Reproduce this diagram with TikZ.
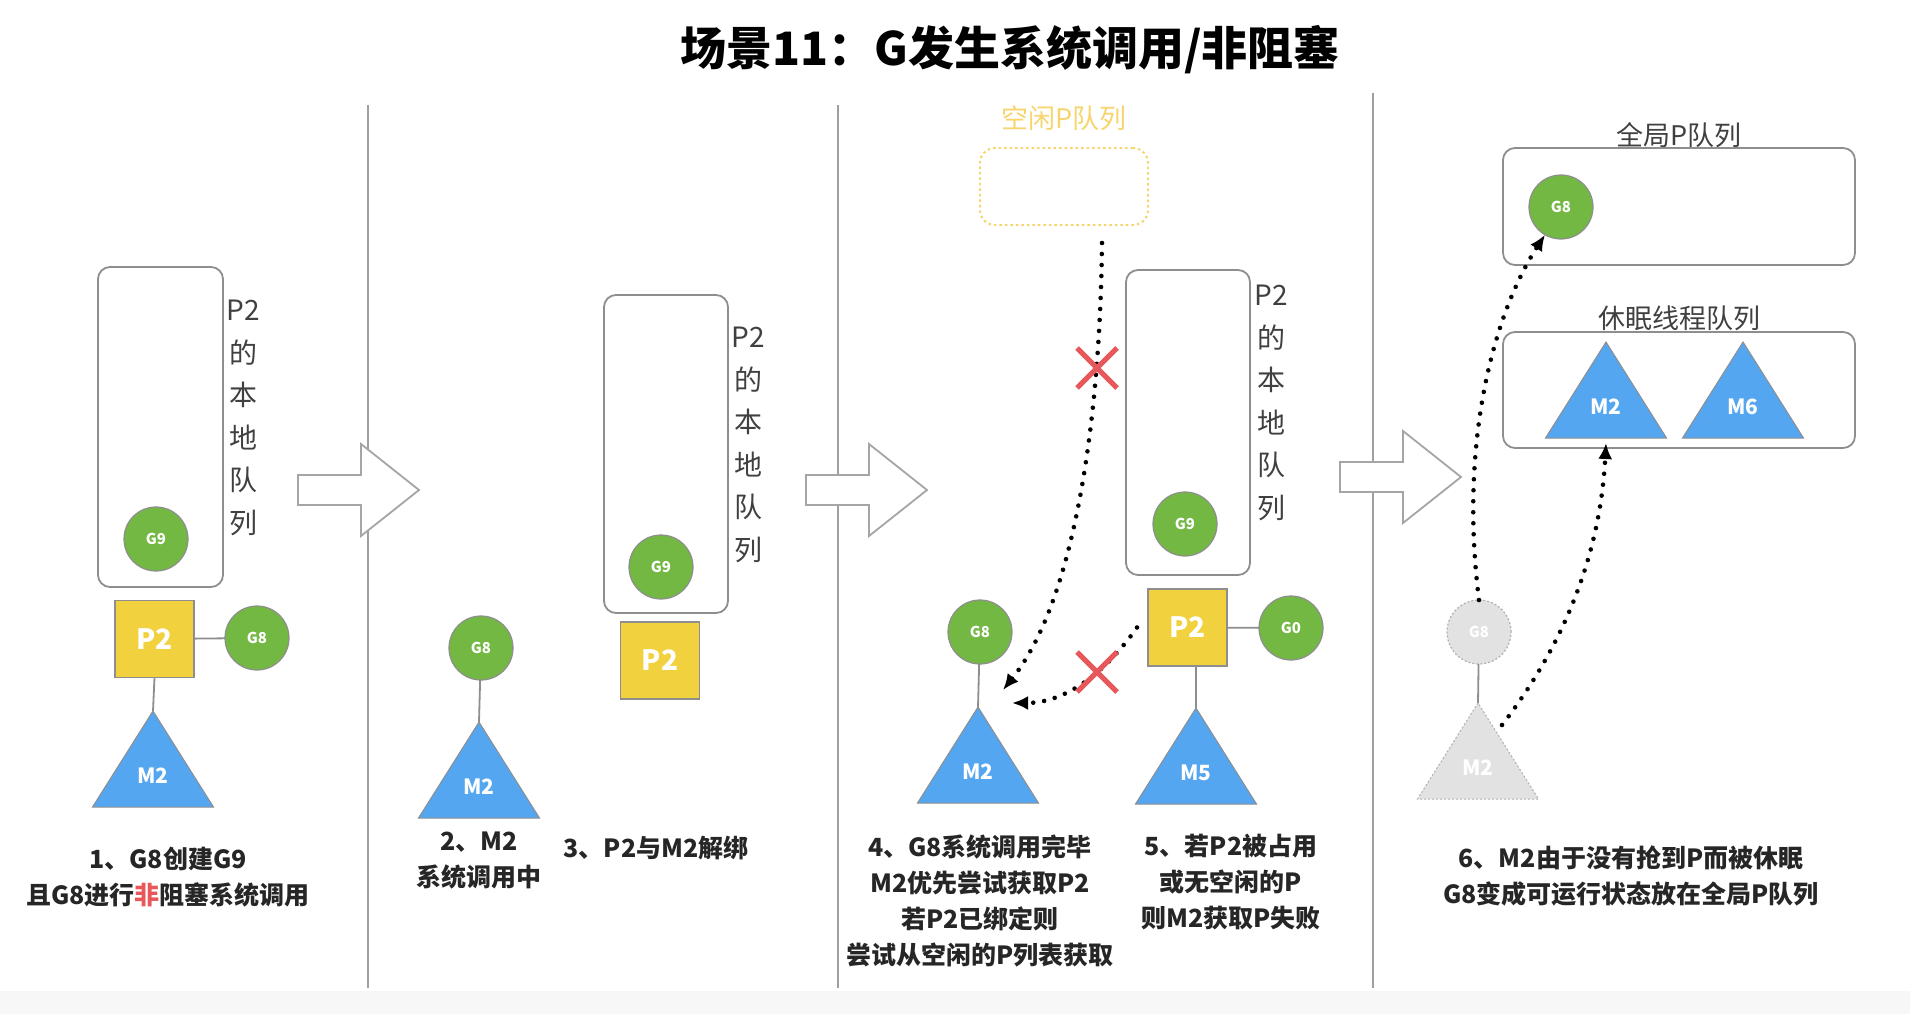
\documentclass[tikz,border=0pt]{standalone}
\usepackage{fontspec}
\setmainfont{Noto Sans CJK SC}
\usetikzlibrary{shapes.geometric,arrows.meta}

\definecolor{ggreen}{HTML}{72B843}
\definecolor{pyellow}{HTML}{F2D13F}
\definecolor{mblue}{HTML}{55A6F0}
\definecolor{edge}{HTML}{8E8E8E}
\definecolor{ghost}{HTML}{E2E2E2}
\definecolor{idle}{HTML}{F6D56E}
\definecolor{xred}{HTML}{E8585A}

\begin{document}
\begin{tikzpicture}[x=1pt,y=-1pt]
\tikzset{ >={Latex[length=16pt,width=14pt]}, inner sep=0pt, outer sep=0pt,
  gor/.style={circle, fill=ggreen, draw=edge, line width=1.2pt, minimum size=64pt, text=white, font=\fontsize{15}{15}\selectfont\bfseries},
  proc/.style={rectangle, fill=pyellow, draw=edge, line width=1.2pt, minimum width=79pt, minimum height=77pt, text=white, font=\fontsize{28}{28}\selectfont\bfseries},
  mach/.style={isosceles triangle, isosceles triangle stretches, shape border rotate=90, minimum height=96pt, minimum width=121pt, fill=mblue, draw=edge, line width=1pt},
  mname/.style={text=white, font=\fontsize{21}{21}\selectfont\bfseries},
  queue/.style={rectangle, rounded corners=12pt, draw=edge, line width=1.8pt},
  qname/.style={text=black!75, font=\fontsize{27}{27}\selectfont},
  vname/.style={text=black!75, align=center, font=\fontsize{28}{42.6}\selectfont},
  note/.style={text=black!85, align=center, font=\fontsize{25}{36}\selectfont\bfseries},
  link/.style={draw=edge, line width=1.8pt},
  hop/.style={->, line width=4.6pt, line cap=round, dash pattern=on 0pt off 11pt},
  cross/.style={xred, line width=5pt},
  bigarrow/.style={draw=edge!80, line width=1.8pt, fill=white, line join=miter},
  sep/.style={draw=edge!85, line width=1.5pt},
  ghostnode/.style={fill=ghost, draw=edge!70, dash pattern=on 2pt off 2pt},
}

\useasboundingbox (0,0) rectangle (1910,1014);
\fill[black!3] (0,991) rectangle (1910,1014);

\node[font=\fontsize{46}{46}\selectfont\bfseries] (title) at (1010,50) {场景11：G发生系统调用/非阻塞};

\draw[sep] (368,105) -- (368,988);
\draw[sep] (838,105) -- (838,988);
\draw[sep] (1373,93) -- (1373,988);

\foreach \ax/\ay in {298/490, 806/490, 1340/477}
  \draw[bigarrow] (\ax,\ay-15) -- (\ax+63,\ay-15) -- (\ax+63,\ay-46) -- (\ax+121,\ay)
     -- (\ax+63,\ay+46) -- (\ax+63,\ay+15) -- (\ax,\ay+15) -- cycle;

% step 1
\node[queue, minimum width=125pt, minimum height=320pt] (Q1) at (160.5,427) {};
\node[vname] (L1) at (243,418) {P2\\的\\本\\地\\队\\列};
\node[gor] (G9a) at (156,539) {G9};
\node[proc] (P2a) at (154.5,639) {P2};
\node[gor] (G8a) at (257,638) {G8};
\node[mach, anchor=apex] (M2a) at (153,711) {};
\node[mname] (M2at) at (153,776) {M2};
\draw[link] (P2a) -- (G8a);
\draw[link] (P2a.south) -- (M2a.apex);
\node[note] (N1) at (168,877) {1、G8创建G9\\且G8进行{\color{xred}非}阻塞系统调用};

% step 2, 3
\node[gor] (G8b) at (481,648) {G8};
\node[mach, anchor=apex] (M2b) at (479,722) {};
\node[mname] (M2bt) at (479,787) {M2};
\draw[link] (G8b) -- (M2b.apex);
\node[queue, minimum width=124pt, minimum height=318pt] (Q2) at (666,454) {};
\node[vname] (L2) at (748,445) {P2\\的\\本\\地\\队\\列};
\node[gor] (G9b) at (661,567) {G9};
\node[proc] (P2b) at (660,660.5) {P2};
\node[note] (N2) at (479,861) {2、M2\\系统调用中};
\node[note] (N3) at (656,848) {3、P2与M2解绑};

% step 4, 5
\node[qname, text=idle] (IdleT) at (1064,118) {空闲P队列};
\node[rectangle, rounded corners=15pt, draw=idle, line width=2pt, dash pattern=on 2.5pt off 3pt,
  minimum width=168pt, minimum height=77pt] (Idle) at (1064,186.5) {};
\node[queue, minimum width=124pt, minimum height=305pt] (Q3) at (1188,422.5) {};
\node[vname] (L3) at (1271,403) {P2\\的\\本\\地\\队\\列};
\node[gor] (G9c) at (1185,524) {G9};
\node[gor] (G8c) at (980,632) {G8};
\node[mach, anchor=apex] (M2c) at (978,707) {};
\node[mname] (M2ct) at (978,772) {M2};
\node[proc] (P2c) at (1187.5,627.5) {P2};
\node[gor] (G0c) at (1291,628) {G0};
\node[mach, anchor=apex] (M5c) at (1196,708) {};
\node[mname] (M5ct) at (1196,773) {M5};
\draw[link] (G8c) -- (M2c.apex);
\draw[link] (P2c) -- (G0c);
\draw[link] (P2c.south -| M5c.apex) -- (M5c.apex);

\coordinate (A1) at (1102,243);
\coordinate (A2) at (1003,690);
\coordinate (B2) at (1012,703);
\draw[hop] (A1) .. controls (1100,420) and (1075,600) .. (A2);
\draw[hop] ([xshift=-11pt]P2c.west) .. controls (1100,680) and (1060,703) .. (B2);
\draw[cross] (1077,348) -- (1117,388) (1077,388) -- (1117,348);
\draw[cross] (1077,652) -- (1117,692) (1077,692) -- (1117,652);

\node[note] (N4) at (980,901) {4、G8系统调用完毕\\M2优先尝试获取P2\\若P2已绑定则\\尝试从空闲的P列表获取};
\node[note] (N5) at (1231,882) {5、若P2被占用\\或无空闲的P\\则M2获取P失败};

% step 6
\node[qname] (GlobT) at (1679,135) {全局P队列};
\node[queue, minimum width=352pt, minimum height=117pt] (Glob) at (1679,206.5) {};
\node[gor] (G8d) at (1561,207) {G8};
\node[qname] (SleepT) at (1679,318) {休眠线程队列};
\node[queue, minimum width=352pt, minimum height=116pt] (Sleep) at (1679,390) {};
\node[mach, anchor=apex] (M2d) at (1606,342) {};
\node[mname] (M2dt) at (1606,407) {M2};
\node[mach, anchor=apex] (M6d) at (1743,342) {};
\node[mname] (M6dt) at (1743,407) {M6};

\node[gor, ghostnode] (G8e) at (1479,632) {G8};
\node[mach, ghostnode, anchor=apex] (M2e) at (1478,703) {};
\node[mname] (M2et) at (1478,768) {M2};
\draw[link] (G8e) -- (M2e.apex);

\coordinate (D1) at (1502,725);
\draw[hop] (G8e.north) .. controls (1460,450) and (1490,320) .. (G8d.240);
\draw[hop] (D1) .. controls (1560,650) and (1600,560) .. ([yshift=-5pt]M2d.lower side);

\node[note] (N6) at (1631,875.5) {6、M2由于没有抢到P而被休眠\\G8变成可运行状态放在全局P队列};
\end{tikzpicture}
\end{document}
